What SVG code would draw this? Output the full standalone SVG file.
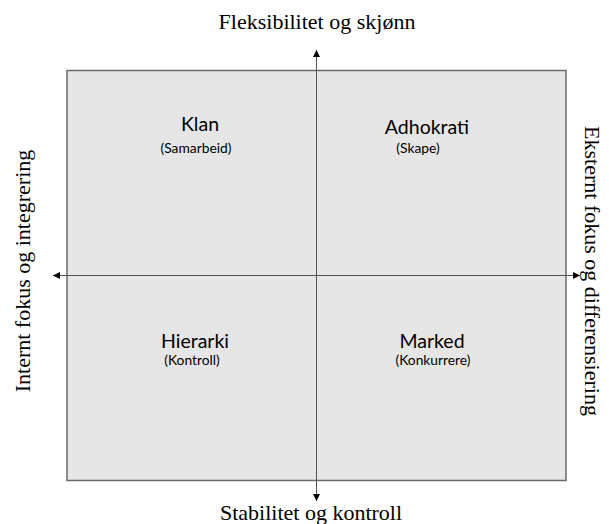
<svg xmlns="http://www.w3.org/2000/svg" width="609" height="524" viewBox="0 0 609 524">
<style>
.axis{font-family:"Liberation Serif","Times New Roman",serif;font-size:22px;fill:#000}
.q{font-family:Lato,"Open Sans","Liberation Sans",sans-serif;font-size:19.5px;fill:#000;text-anchor:middle}
.s{font-family:Lato,"Open Sans","Liberation Sans",sans-serif;font-size:13.8px;fill:#000;text-anchor:middle}
.ln{stroke:#555;stroke-width:1;fill:none}
</style>
<defs>
<marker id="ah" viewBox="0 0 10 10" refX="10" refY="5" markerWidth="7" markerHeight="7" markerUnits="userSpaceOnUse" orient="auto"><path d="M0,0 L10,5 L0,10 Z" fill="#000"/></marker>
</defs>
<rect id="box" x="67" y="70.5" width="499" height="410" fill="#e6e6e6" stroke="#6b6b6b" stroke-width="1.5"/>
<g id="connectors">
<line class="ln" x1="316.5" y1="275" x2="316.5" y2="50" marker-end="url(#ah)"/>
<line class="ln" x1="316.5" y1="275" x2="316.5" y2="501" marker-end="url(#ah)"/>
<line class="ln" x1="316.5" y1="275.5" x2="53" y2="275.5" marker-end="url(#ah)"/>
<line class="ln" x1="316.5" y1="275.5" x2="580" y2="275.5" marker-end="url(#ah)"/>
</g>
<g id="top"><text class="axis" x="317" y="29" text-anchor="middle">Fleksibilitet og skjønn</text></g>
<g id="bottom"><text class="axis" x="311" y="520" text-anchor="middle">Stabilitet og kontroll</text></g>
<g id="left"><text class="axis" transform="translate(30,271) rotate(-90)" text-anchor="middle">Internt fokus og integrering</text></g>
<g id="right"><text class="axis" transform="translate(585,271) rotate(90)" text-anchor="middle">Eksternt fokus og differensiering</text></g>
<g id="klan"><text class="q" x="200" y="131">Klan</text><text class="s" x="196" y="153">(Samarbeid)</text></g>
<g id="adhokrati"><text class="q" x="427" y="134">Adhokrati</text><text class="s" x="418" y="153">(Skape)</text></g>
<g id="hierarki"><text class="q" x="195" y="348">Hierarki</text><text class="s" x="192" y="365">(Kontroll)</text></g>
<g id="marked"><text class="q" x="432" y="348">Marked</text><text class="s" x="433" y="365">(Konkurrere)</text></g>
</svg>
